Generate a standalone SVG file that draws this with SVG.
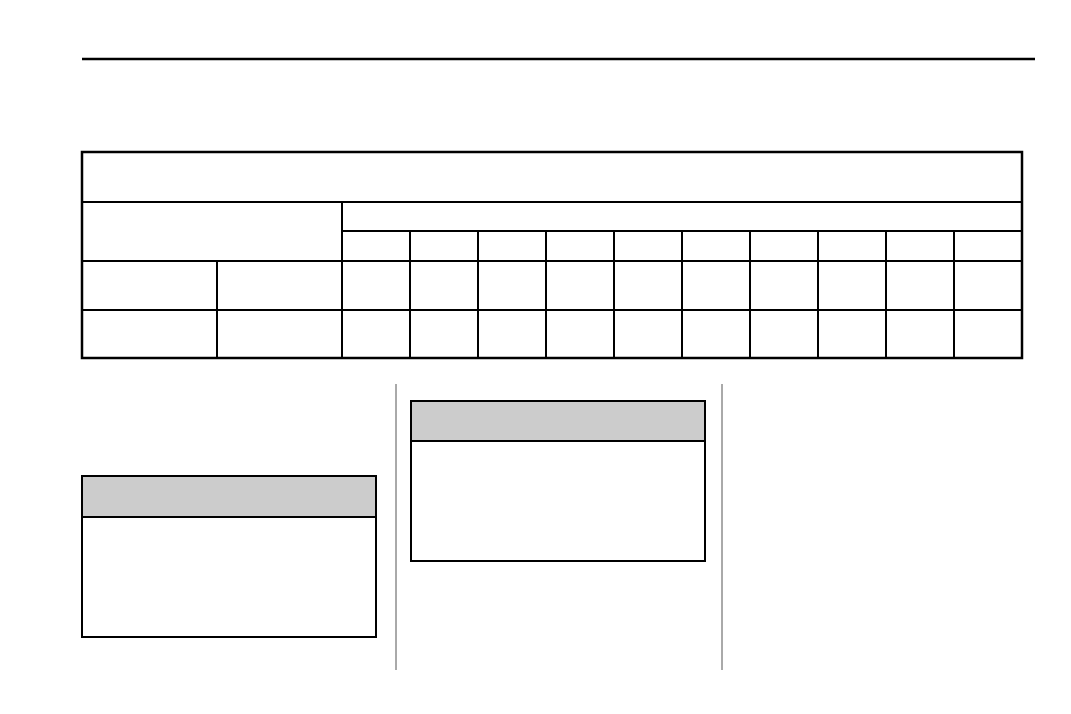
<svg xmlns="http://www.w3.org/2000/svg" width="1071" height="714" viewBox="0 0 1071 714">
<style>.l{stroke:#000;stroke-width:2;fill:none}.t{stroke:#000;stroke-width:2.5;fill:none}.s{stroke:#000;stroke-width:1}.d{stroke:#555;stroke-width:1}</style>
<rect width="1071" height="714" fill="#fff"/>
<line class="t" x1="82" y1="59" x2="1035" y2="59"/>
<g id="table">
<rect class="t" x="82" y="152" width="940" height="206"/>
<g class="l">
<line x1="82" y1="202" x2="1022" y2="202"/>
<line x1="342" y1="231" x2="1022" y2="231"/>
<line x1="82" y1="261" x2="1022" y2="261"/>
<line x1="82" y1="310" x2="1022" y2="310"/>
<line x1="217" y1="261" x2="217" y2="358"/>
<line x1="342" y1="202" x2="342" y2="358"/>
<line x1="410" y1="231" x2="410" y2="358"/>
<line x1="478" y1="231" x2="478" y2="358"/>
<line x1="546" y1="231" x2="546" y2="358"/>
<line x1="614" y1="231" x2="614" y2="358"/>
<line x1="682" y1="231" x2="682" y2="358"/>
<line x1="750" y1="231" x2="750" y2="358"/>
<line x1="818" y1="231" x2="818" y2="358"/>
<line x1="886" y1="231" x2="886" y2="358"/>
<line x1="954" y1="231" x2="954" y2="358"/>
</g>
</g>
<line class="d" x1="396" y1="384" x2="396" y2="670"/>
<line class="d" x1="722" y1="384" x2="722" y2="670"/>
<g id="box1">
<rect x="82" y="476" width="294" height="41" fill="#cccccc"/>
<line class="l" x1="82" y1="517" x2="376" y2="517"/>
<rect class="l" x="82" y="476" width="294" height="161"/>
</g>
<g id="box2">
<rect x="411" y="401" width="294" height="40" fill="#cccccc"/>
<line class="l" x1="411" y1="441" x2="705" y2="441"/>
<rect class="l" x="411" y="401" width="294" height="160"/>
</g>
</svg>
